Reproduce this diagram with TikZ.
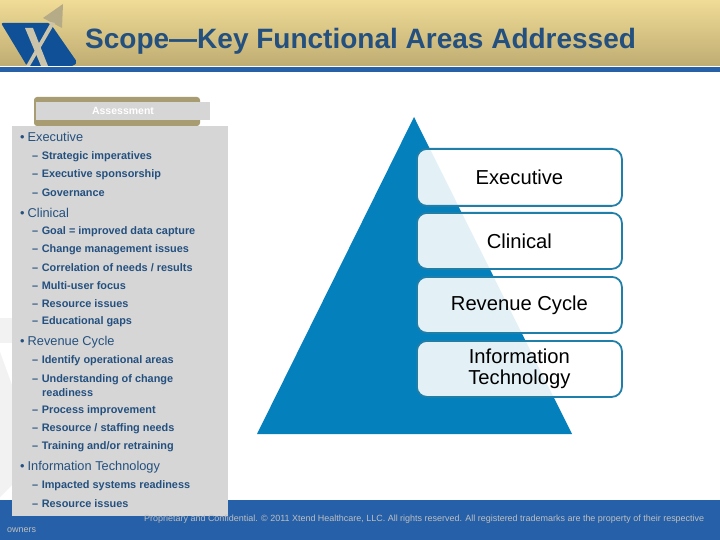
\documentclass[tikz,border=0pt]{standalone}
\usepackage{fontspec}
\setmainfont{Liberation Sans}
\definecolor{xtblue}{HTML}{2660A8}
\definecolor{xtlogo}{HTML}{0F5096}
\definecolor{xttext}{HTML}{24507F}
\definecolor{xttop}{HTML}{F0DC96}
\definecolor{xtbottom}{HTML}{BFAC72}
\definecolor{xttan}{HTML}{A89C72}
\definecolor{xtpanel}{HTML}{D6D6D6}
\definecolor{xttri}{HTML}{0480BC}
\definecolor{xtedge}{HTML}{1F7FA8}
\tikzset{
	headitem/.style={anchor=west, text=xttext, font=\fontsize{12.8}{14}\selectfont, inner sep=0pt},
	subitem/.style={anchor=west, text=xttext, font=\fontsize{10.9}{12}\selectfont\bfseries, inner sep=0pt},
	levelbox/.style={draw=xtedge, line width=1.8pt, rounded corners=10pt, fill=white, fill opacity=0.89, text opacity=1, minimum width=205pt, anchor=north west, align=center, font=\fontsize{20.2}{21}\selectfont},
	footnote/.style={anchor=west, text=black!25!white, font=\fontsize{8.97}{10}\selectfont, inner sep=0pt}
}
\begin{document}
\begin{tikzpicture}[x=1pt,y=-1pt]
	%%%%% START %%%%%
	\useasboundingbox (0,0) rectangle (720,540);

	\fill[white] (0,0) rectangle (720,540);
	\fill[black!5] (0,318) rectangle (12,343);
	\fill[black!5] (0,352) -- (12,385) -- (12,485) -- (0,497) -- cycle;

	\shade[top color=xttop, bottom color=xtbottom] (0,0) rectangle (720,66);
	\fill[xtblue] (0,67) rectangle (720,72);
	\fill[xtblue] (0,500) rectangle (720,540);

	\fill[xttan!85!white] (63,4) -- (43,18) -- (62,28) -- cycle;
	\fill[xtlogo, rounded corners=2pt] (1,23) -- (50,23) -- (77,62) -- (74,66) -- (27,66) -- cycle;
	\fill[xttan!60!white] (25,28) -- (33,28) -- (48,66) -- (41,66) -- cycle;
	\fill[xttan!60!white] (51,22) -- (55,23) -- (30,66) -- (26,66) -- cycle;

	\node[anchor=west, inner sep=0pt, text=xttext, font=\fontsize{28}{30}\selectfont\bfseries] (title) at (85,41) {Scope—Key Functional Areas Addressed};

	\fill[xttan, rounded corners=3pt] (34,97) rectangle (200,126);
	\node[fill=xtpanel, minimum width=174pt, minimum height=18pt, inner sep=0pt, text=white, font=\fontsize{10.5}{12}\selectfont\bfseries] (assess) at (123,111) {Assessment};
	\fill[xtpanel] (12,126) rectangle (228,516);

	\fill[xttri] (414,117) -- (572,434) -- (257,434) -- cycle;

	\node[levelbox, minimum height=57pt] (exec) at (416,148) {Executive};
	\node[levelbox, minimum height=56pt] (clin) at (416,212) {Clinical};
	\node[levelbox, minimum height=56pt] (rev) at (416,276) {Revenue Cycle};
	\node[levelbox, minimum height=56pt] (info) at (416,340) {Information\\Technology};

	\foreach \y/\txt in {137/Executive, 213/Clinical, 342/Revenue Cycle, 467/Information Technology}
		\node[headitem] at (20,\y) {•\hspace{3pt}\txt};

	\foreach \y/\txt in {156/{Strategic imperatives}, 174/{Executive sponsorship}, 192/{Governance},
		231/{Goal = improved data capture}, 249/{Change management issues}, 267/{Correlation of needs / results},
		285/{Multi-user focus}, 303/{Resource issues}, 321/{Educational gaps},
		360/{Identify operational areas}, 379/{Understanding of change},
		410/{Process improvement}, 428/{Resource / staffing needs}, 446/{Training and/or retraining},
		485/{Impacted systems readiness}, 503/{Resource issues}}
		\node[subitem] at (32,\y+0.5) {–\hspace{3.5pt}\txt};
	\node[subitem] at (42,392.5) {readiness};

	\node[footnote] (legal) at (144,519) {Proprietary and Confidential. © 2011 Xtend Healthcare, LLC. All rights reserved. All registered trademarks are the property of their respective};
	\node[footnote] (owners) at (7,530) {owners};
	%%%%% END %%%%%
\end{tikzpicture}
\end{document}
